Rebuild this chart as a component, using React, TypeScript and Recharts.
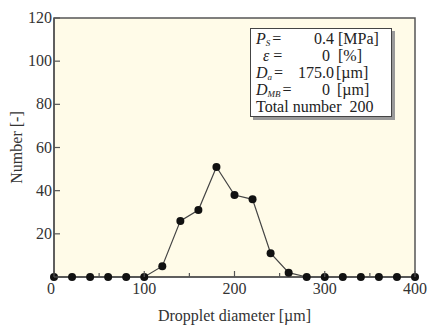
import React from 'react';
import { LineChart, Line, XAxis, YAxis, ReferenceArea } from 'recharts';

const diameters = [0, 20, 40, 60, 80, 100, 120, 140, 160, 180, 200, 220, 240, 260, 280, 300, 320, 340, 360, 380, 400];
const counts = [0, 0, 0, 0, 0, 0, 5, 26, 31, 51, 38, 36, 11, 2, 0, 0, 0, 0, 0, 0, 0];
const xTicks = [0, 50, 100, 150, 200, 250, 300, 350, 400];
const yTicks = [0, 10, 20, 30, 40, 50, 60, 70, 80, 90, 100, 110, 120];

const data = diameters.map((d, i) => ({ d, n: counts[i] }));

const FONT = '"Liberation Serif", "Times New Roman", serif';
const AXIS = '#555';

function XTick(props: any) {
  const { x, y, payload } = props;
  const major = payload.value % 100 === 0;
  return (
    <g>
      <line x1={x} x2={x} y1={y} y2={y - (major ? 6 : 4)} stroke={AXIS} strokeWidth={1.2} />
      {major && (
        <text x={payload.value === 0 ? x - 3 : x} y={y + 17} textAnchor="middle" fontFamily={FONT} fontSize={16} fill="#333">
          {payload.value}
        </text>
      )}
    </g>
  );
}

function YTick(props: any) {
  const { x, y, payload } = props;
  const major = payload.value % 20 === 0;
  return (
    <g>
      <line x1={x} x2={x + (major ? 6 : 4)} y1={y} y2={y} stroke={AXIS} strokeWidth={1.2} />
      {major && payload.value !== 0 && (
        <text x={x - 2} y={y + 5} textAnchor="end" fontFamily={FONT} fontSize={16} fill="#333">
          {payload.value}
        </text>
      )}
    </g>
  );
}

const row: React.CSSProperties = { display: 'flex', height: 17, alignItems: 'baseline', whiteSpace: 'nowrap' };
const sub: React.CSSProperties = { fontSize: 9, lineHeight: '9px', position: 'relative', top: 2, fontStyle: 'italic', marginRight: 2 };

export default function App() {
  return (
    <div style={{ position: 'absolute', left: 0, top: 0, width: 429, height: 326, background: '#fff' }}>
      <LineChart width={429} height={326} data={data} margin={{ top: 18, right: 14, bottom: 0, left: 0 }}>
        <ReferenceArea x1={0} x2={400} y1={0} y2={120} fill="#fffbe8" fillOpacity={1} stroke={AXIS} strokeWidth={1.5} />
        <XAxis
          dataKey="d"
          type="number"
          domain={[0, 400]}
          ticks={xTicks}
          tickSize={0}
          tickMargin={0}
          tick={<XTick />}
          axisLine={{ stroke: AXIS, strokeWidth: 1.5 }}
          height={49}
          label={{ value: 'Dropplet diameter [µm]', position: 'insideBottom', offset: 5, fontFamily: FONT, fontSize: 16, fill: '#333' }}
        />
        <YAxis
          type="number"
          domain={[0, 120]}
          ticks={yTicks}
          tickSize={0}
          tickMargin={0}
          tick={<YTick />}
          width={54}
          axisLine={{ stroke: AXIS, strokeWidth: 1.5 }}
          label={{ value: 'Number [-]', angle: -90, position: 'insideLeft', offset: 16, fontFamily: FONT, fontSize: 16, fill: '#333', style: { textAnchor: 'middle' } }}
        />
        <Line
          dataKey="n"
          type="linear"
          stroke="#444"
          strokeWidth={1.2}
          dot={{ r: 4, fill: '#111', stroke: '#111', strokeWidth: 0 }}
          isAnimationActive={false}
        />
      </LineChart>
      <div
        style={{
          position: 'absolute',
          left: 250,
          top: 28,
          width: 142,
          height: 89,
          boxSizing: 'border-box',
          border: '1px solid #444',
          background: '#fff',
          boxShadow: '3px 3px 0 #999',
          fontFamily: FONT,
          fontSize: 16,
          color: '#222',
          padding: '1px 0 0 5px',
          lineHeight: '17px',
        }}
      >
        <div style={row}>
          <span style={{ width: 36 }}><i>P</i><span style={sub}>S</span>=</span>
          <span style={{ width: 42, textAlign: 'right' }}>0.4</span>
          <span style={{ marginLeft: 4 }}>[MPa]</span>
        </div>
        <div style={row}>
          <span style={{ width: 36, paddingLeft: 7, boxSizing: 'border-box' }}><i>ε</i> =</span>
          <span style={{ width: 38, textAlign: 'right' }}>0</span>
          <span style={{ marginLeft: 8 }}>[%]</span>
        </div>
        <div style={row}>
          <span style={{ width: 36 }}><i>D</i><span style={sub}>a</span>=</span>
          <span style={{ width: 42, textAlign: 'right' }}>175.0</span>
          <span style={{ marginLeft: 2 }}>[µm]</span>
        </div>
        <div style={row}>
          <span style={{ width: 36 }}><i>D</i><span style={sub}>MB</span>=</span>
          <span style={{ width: 38, textAlign: 'right' }}>0</span>
          <span style={{ marginLeft: 7 }}>[µm]</span>
        </div>
        <div style={row}>
          <span>Total number&nbsp;&nbsp;200</span>
        </div>
      </div>
    </div>
  );
}
